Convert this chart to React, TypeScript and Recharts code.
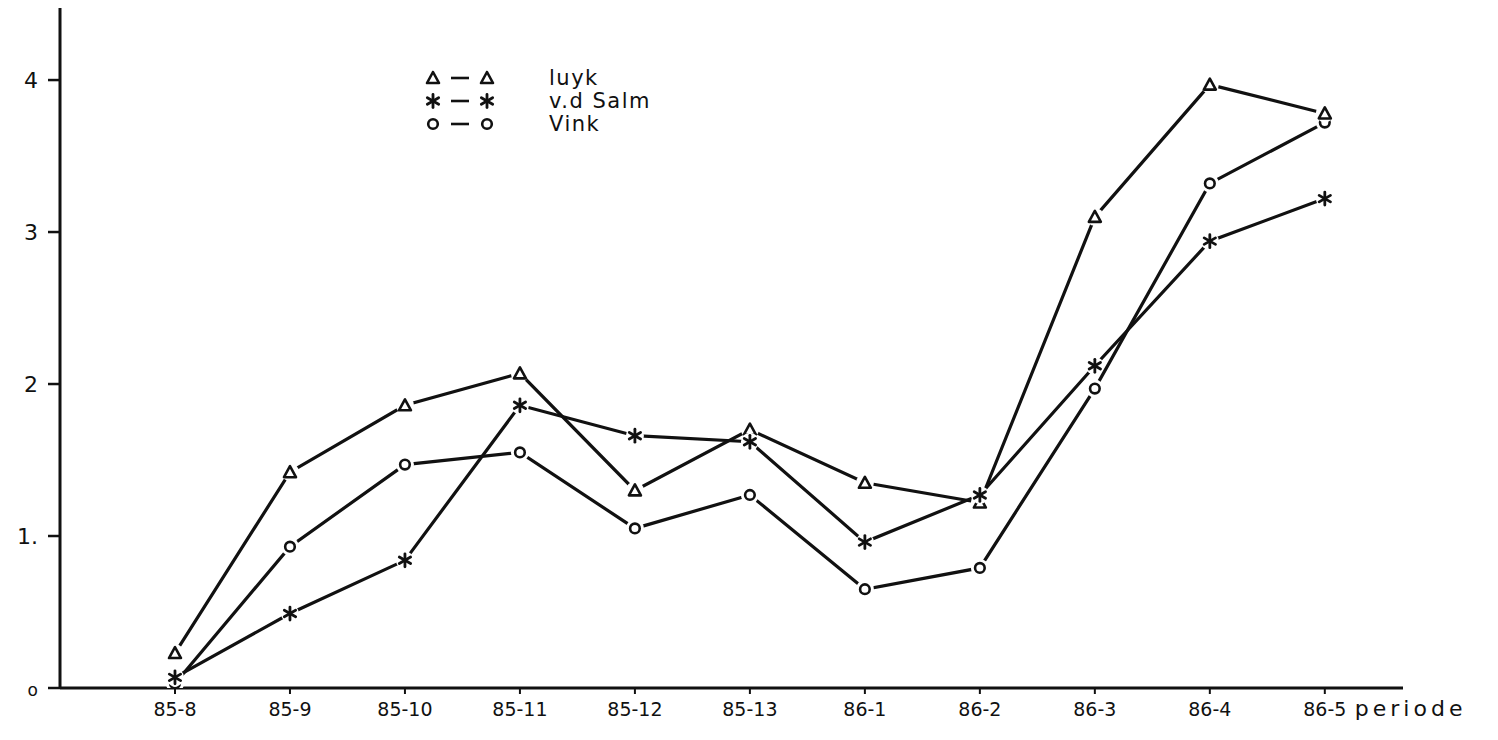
import { LineChart, Line, XAxis, YAxis, Legend } from 'recharts';

const CATEGORIES = ['85-8', '85-9', '85-10', '85-11', '85-12', '85-13', '86-1', '86-2', '86-3', '86-4', '86-5'];
const LUYK = [0.23, 1.42, 1.86, 2.07, 1.3, 1.7, 1.35, 1.22, 3.1, 3.97, 3.78];
const SALM = [0.07, 0.49, 0.84, 1.86, 1.66, 1.62, 0.96, 1.27, 2.12, 2.94, 3.22];
const VINK = [0.03, 0.93, 1.47, 1.55, 1.05, 1.27, 0.65, 0.79, 1.97, 3.32, 3.72];
const Y_TICKS = [0, 1, 2, 3, 4];
const Y_TICK_LABELS = ['o', '1.', '2', '3', '4'];
const X_TITLE = 'periode';

const SERIES = [
  { key: 'luyk', name: 'luyk', marker: 'triangle' },
  { key: 'salm', name: 'v.d Salm', marker: 'star' },
  { key: 'vink', name: 'Vink', marker: 'circle' },
];
// drawing order: circles at the back, stars on top
const DRAW_ORDER = ['vink', 'luyk', 'salm'];

const data = CATEGORIES.map((cat, i) => ({
  idx: i,
  cat,
  luyk: LUYK[i],
  salm: SALM[i],
  vink: VINK[i],
}));

const INK = '#111';
const FONT = '"DejaVu Sans", sans-serif';

function Marker({ kind, cx, cy }: { kind: string; cx: number; cy: number }) {
  if (kind === 'triangle') {
    return (
      <polygon
        points={`${cx},${cy - 6} ${cx - 6},${cy + 5} ${cx + 6},${cy + 5}`}
        fill="#fff"
        stroke={INK}
        strokeWidth={2.6}
        strokeLinejoin="round"
      />
    );
  }
  if (kind === 'star') {
    const r = 6.5;
    return (
      <g stroke={INK} strokeWidth={2.8} strokeLinecap="round">
        <line x1={cx} y1={cy - r} x2={cx} y2={cy + r} />
        <line x1={cx - r * 0.87} y1={cy - r * 0.5} x2={cx + r * 0.87} y2={cy + r * 0.5} />
        <line x1={cx - r * 0.87} y1={cy + r * 0.5} x2={cx + r * 0.87} y2={cy - r * 0.5} />
      </g>
    );
  }
  return <circle cx={cx} cy={cy} r={4.8} fill="#fff" stroke={INK} strokeWidth={2.6} />;
}

const makeDot = (kind: string) => (props: any) => {
  const { cx, cy, index } = props;
  if (cx == null || cy == null) return <g key={`${kind}-${index}`} />;
  return (
    <g key={`${kind}-${index}`}>
      <circle cx={cx} cy={cy} r={9} fill="#fff" />
      <Marker kind={kind} cx={cx} cy={cy} />
    </g>
  );
};

const XTick = (props: any) => {
  const { x, y, payload, index } = props;
  const label = CATEGORIES[payload.value] ?? '';
  return (
    <g>
      <text x={x} y={y} dy={16} textAnchor="middle" fontFamily={FONT} fontSize={19} fill={INK}>
        {label}
      </text>
      {index === CATEGORIES.length - 1 && (
        <text x={x + 30} y={y} dy={16} textAnchor="start" fontFamily={FONT} fontSize={22} letterSpacing={4} fill={INK}>
          {X_TITLE}
        </text>
      )}
    </g>
  );
};

const YTick = (props: any) => {
  const { x, y, payload } = props;
  const i = Y_TICKS.indexOf(payload.value);
  return (
    <text x={x} y={y} dy={8} textAnchor="end" fontFamily={FONT} fontSize={i === 0 ? 17 : 22} fill={INK}>
      {Y_TICK_LABELS[i]}
    </text>
  );
};

const LegendBox = () => (
  <div style={{ fontFamily: FONT, color: INK }}>
    {SERIES.map((s) => (
      <div key={s.key} style={{ display: 'flex', alignItems: 'center', height: 23 }}>
        <svg width={80} height={20}>
          <Marker kind={s.marker} cx={10} cy={10} />
          <line x1={28} y1={10} x2={46} y2={10} stroke={INK} strokeWidth={2.6} />
          <Marker kind={s.marker} cx={64} cy={10} />
        </svg>
        <span style={{ marginLeft: 46, fontSize: 21, letterSpacing: 1.5 }}>{s.name}</span>
      </div>
    ))}
  </div>
);

export default function App() {
  return (
    <LineChart width={1482} height={724} data={data} margin={{ top: 0, right: 87, left: 0, bottom: 0 }}>
      <XAxis
        type="number"
        dataKey="idx"
        domain={[-1, 10.68]}
        ticks={CATEGORIES.map((_, i) => i)}
        allowDataOverflow
        height={44}
        tick={<XTick />}
        tickSize={6}
        tickMargin={6}
        axisLine={{ stroke: INK, strokeWidth: 3 }}
        tickLine={{ stroke: INK, strokeWidth: 2 }}
      />
      <YAxis
        type="number"
        domain={[0, 4.474]}
        ticks={Y_TICKS}
        allowDataOverflow
        width={52}
        tick={<YTick />}
        tickSize={12}
        tickMargin={10}
        axisLine={{ stroke: INK, strokeWidth: 3 }}
        tickLine={{ stroke: INK, strokeWidth: 2.5 }}
      />
      <Legend
        layout="vertical"
        align="center"
        verticalAlign="middle"
        wrapperStyle={{ left: 415, top: 58, width: 320 }}
        content={<LegendBox />}
      />
      {DRAW_ORDER.map((k) => {
        const s = SERIES.find((d) => d.key === k)!;
        return (
          <Line
            key={s.key}
            type="linear"
            dataKey={s.key}
            name={s.name}
            stroke={INK}
            strokeWidth={3.2}
            strokeLinecap="round"
            dot={makeDot(s.marker)}
            activeDot={false}
            isAnimationActive={false}
          />
        );
      })}
    </LineChart>
  );
}
